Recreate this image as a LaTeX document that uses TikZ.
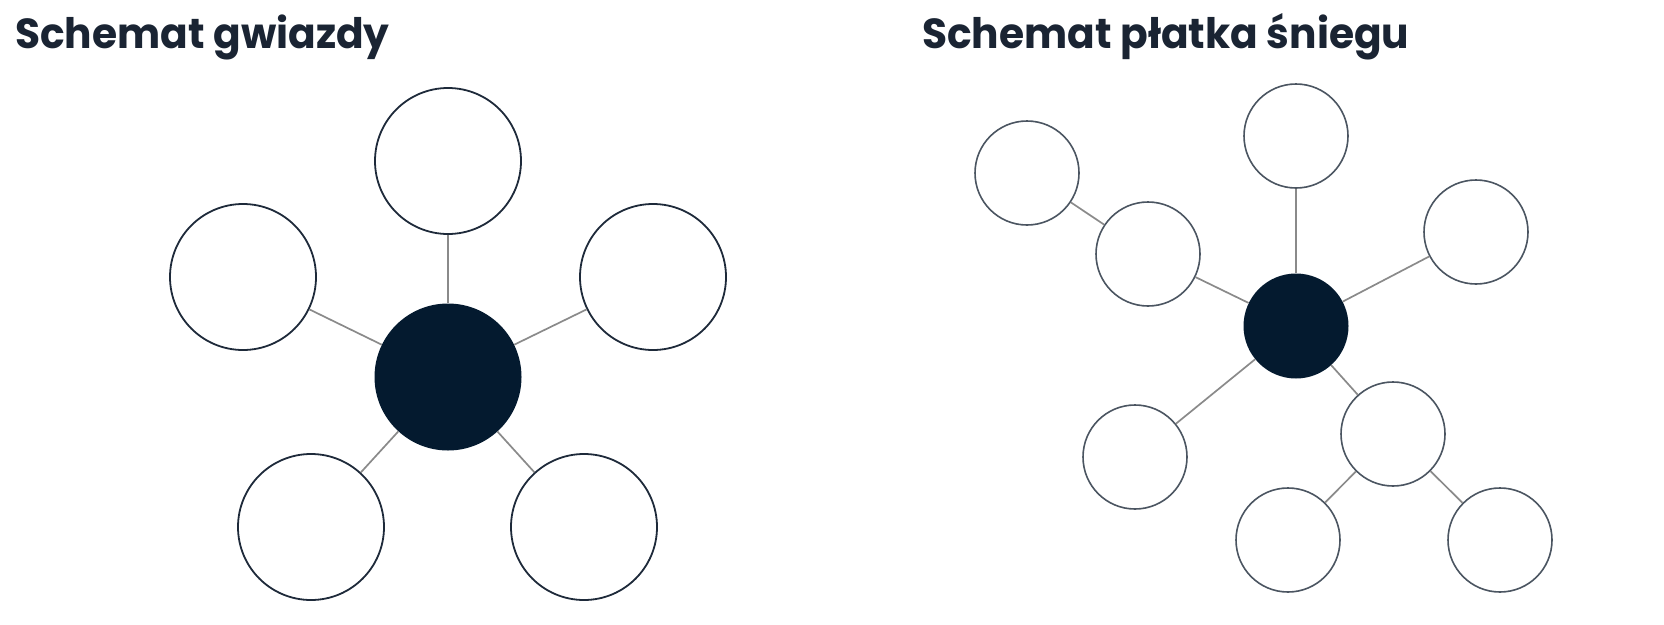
\documentclass[tikz,border=0pt]{standalone}
\usepackage{fontspec}
\setmainfont{Poppins}[BoldFont={* Bold},BoldFeatures={FakeStretch=0.97}]
\definecolor{navy}{HTML}{041A2F}
\definecolor{ink}{HTML}{1A2433}
\definecolor{rim}{HTML}{1E2A3A}
\definecolor{link}{HTML}{8A8A8A}
\begin{document}
\begin{tikzpicture}[x=1pt,y=-1pt,
  bigleaf/.style={circle,draw=rim,line width=1.8pt,fill=white,minimum size=146pt,inner sep=0pt},
  bighub/.style={circle,fill=navy,minimum size=147pt,inner sep=0pt},
  smallleaf/.style={circle,draw=rim!80!white,line width=1.6pt,fill=white,minimum size=104pt,inner sep=0pt},
  smallhub/.style={circle,fill=navy,minimum size=105pt,inner sep=0pt},
  conn/.style={draw=link,line width=1.7pt},
  ttl/.style={anchor=base west,inner sep=0pt,text=ink,font=\fontsize{42}{50}\selectfont\bfseries}]
\useasboundingbox (0,0) rectangle (1664,624);
\node[ttl] (t1) at (15,48) {Schemat gwiazdy};
\node[ttl] (t2) at (922,48) {Schemat płatka śniegu};
% star
\node[bighub] (c) at (448,377) {};
\node[bigleaf] (a1) at (448,161) {};
\node[bigleaf] (a2) at (243,277) {};
\node[bigleaf] (a3) at (653,277) {};
\node[bigleaf] (a4) at (311,527) {};
\node[bigleaf] (a5) at (584,527) {};
\foreach \n in {a1,a2,a3,a4,a5} \draw[conn] (c) -- (\n);
% snowflake
\node[smallhub] (h) at (1296,326) {};
\node[smallleaf] (b1) at (1296,136) {};
\node[smallleaf] (b2) at (1148,254) {};
\node[smallleaf] (b3) at (1027,173) {};
\node[smallleaf] (b4) at (1476,232) {};
\node[smallleaf] (b5) at (1135,457) {};
\node[smallleaf] (b6) at (1393,434) {};
\node[smallleaf] (b7) at (1288,540) {};
\node[smallleaf] (b8) at (1500,540) {};
\draw[conn] (h) -- (b1);
\draw[conn] (h) -- (b2);
\draw[conn] (b2) -- (b3);
\draw[conn] (h) -- (b4);
\draw[conn] (h) -- (b5);
\draw[conn] (h) -- (b6);
\draw[conn] (b6) -- (b7);
\draw[conn] (b6) -- (b8);
\end{tikzpicture}
\end{document}
